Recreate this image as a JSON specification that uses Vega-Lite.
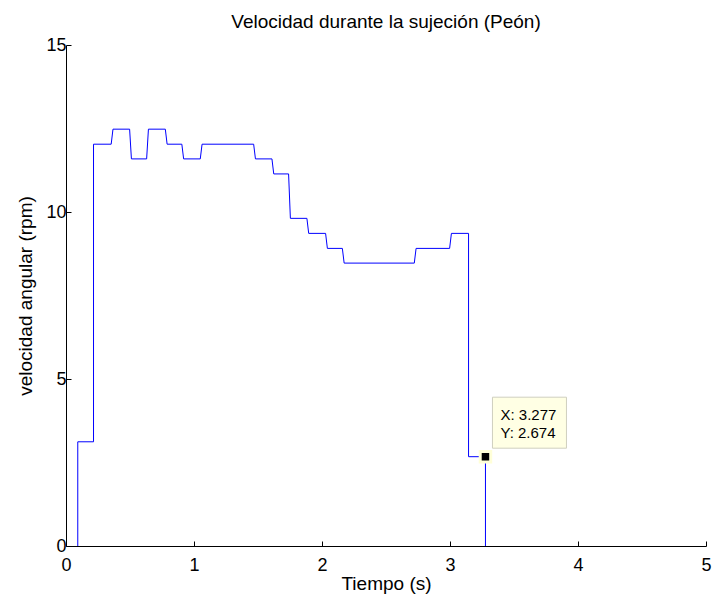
{
  "$schema": "https://vega.github.io/schema/vega-lite/v6.json",
  "width": 640,
  "height": 501,
  "autosize": "none",
  "padding": {"left": 66, "top": 45, "right": 6, "bottom": 50},
  "background": "white",
  "config": {
    "font": "Liberation Sans",
    "view": {"stroke": null},
    "axis": {
      "grid": false,
      "domainColor": "black",
      "tickColor": "black",
      "tickSize": -5,
      "labelFlush": false,
      "labelFont": "Liberation Sans",
      "titleFont": "Liberation Sans",
      "labelFontSize": 18,
      "titleFontSize": 19,
      "labelColor": "black",
      "titleColor": "black",
      "titleFontWeight": "normal",
      "format": "d"
    }
  },
  "title": {
    "text": "Velocidad durante la sujeción (Peón)",
    "fontSize": 19,
    "fontWeight": "normal",
    "font": "Liberation Sans",
    "color": "black",
    "offset": 4
  },
  "datasets": {
    "serie": [
      {"t": 0.092, "v": 0},
      {"t": 0.092, "v": 3.12},
      {"t": 0.215, "v": 3.12},
      {"t": 0.215, "v": 12.03},
      {"t": 0.353, "v": 12.03},
      {"t": 0.367, "v": 12.48},
      {"t": 0.497, "v": 12.48},
      {"t": 0.511, "v": 11.59},
      {"t": 0.63, "v": 11.59},
      {"t": 0.644, "v": 12.48},
      {"t": 0.776, "v": 12.48},
      {"t": 0.79, "v": 12.03},
      {"t": 0.905, "v": 12.03},
      {"t": 0.919, "v": 11.59},
      {"t": 1.049, "v": 11.59},
      {"t": 1.063, "v": 12.03},
      {"t": 1.466, "v": 12.03},
      {"t": 1.48, "v": 11.59},
      {"t": 1.609, "v": 11.59},
      {"t": 1.623, "v": 11.14},
      {"t": 1.739, "v": 11.14},
      {"t": 1.753, "v": 9.81},
      {"t": 1.882, "v": 9.81},
      {"t": 1.896, "v": 9.36},
      {"t": 2.028, "v": 9.36},
      {"t": 2.042, "v": 8.91},
      {"t": 2.159, "v": 8.91},
      {"t": 2.173, "v": 8.47},
      {"t": 2.721, "v": 8.47},
      {"t": 2.735, "v": 8.91},
      {"t": 2.997, "v": 8.91},
      {"t": 3.011, "v": 9.36},
      {"t": 3.145, "v": 9.36},
      {"t": 3.145, "v": 2.674},
      {"t": 3.277, "v": 2.674},
      {"t": 3.277, "v": 0}
    ],
    "tip": [
      {"t": 3.277, "v": 2.674, "label": "X: 3.277\nY: 2.674"}
    ]
  },
  "layer": [
    {
      "data": {"name": "serie"},
      "mark": {"type": "line", "color": "#0000FF", "strokeWidth": 1, "clip": true},
      "encoding": {
        "x": {
          "field": "t", "type": "quantitative",
          "scale": {"domain": [0, 5], "nice": false, "zero": false},
          "axis": {"values": [0, 1, 2, 3, 4, 5], "title": "Tiempo (s)", "labelPadding": 15, "titlePadding": 0}
        },
        "y": {
          "field": "v", "type": "quantitative",
          "scale": {"domain": [0, 15], "nice": false},
          "axis": {"values": [0, 5, 10, 15], "title": "velocidad angular (rpm)", "labelPadding": 5, "titlePadding": 10}
        },
        "order": {"field": "t", "type": "quantitative"}
      }
    },
    {
      "data": {"name": "tip"},
      "mark": {"type": "rect", "width": 74, "height": 51, "xOffset": 44, "yOffset": -34, "fill": "#FFFFE4", "stroke": "#CFCFBF", "strokeWidth": 1},
      "encoding": {
        "x": {"field": "t", "type": "quantitative"},
        "y": {"field": "v", "type": "quantitative"}
      }
    },
    {
      "data": {"name": "tip"},
      "mark": {"type": "point", "shape": "square", "filled": true, "size": 110, "color": "black", "stroke": "#FFFFD8", "strokeWidth": 3, "opacity": 1},
      "encoding": {
        "x": {"field": "t", "type": "quantitative"},
        "y": {"field": "v", "type": "quantitative"}
      }
    },
    {
      "data": {"name": "tip"},
      "mark": {"type": "text", "align": "left", "baseline": "middle", "dx": 15, "dy": -42, "lineBreak": "\n", "lineHeight": 18.7, "fontSize": 15, "font": "Liberation Sans", "color": "black"},
      "encoding": {
        "x": {"field": "t", "type": "quantitative"},
        "y": {"field": "v", "type": "quantitative"},
        "text": {"field": "label"}
      }
    }
  ]
}
